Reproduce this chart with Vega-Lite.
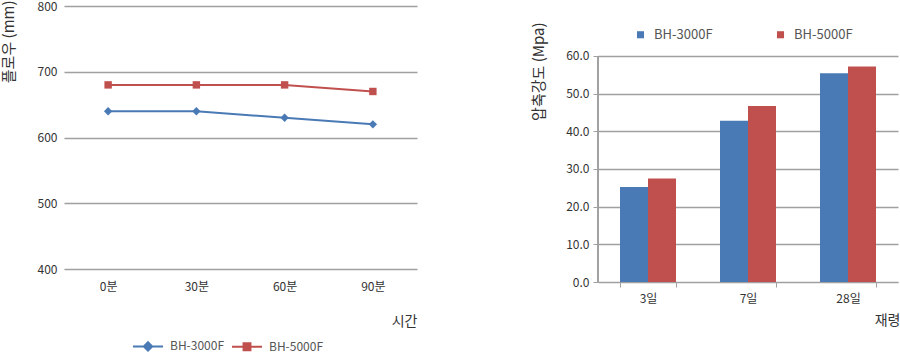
{
  "$schema": "https://vega.github.io/schema/vega-lite/v6.json",
  "padding": 0,
  "background": "white",
  "config": {
    "font": "Noto Sans CJK KR",
    "view": {"stroke": null},
    "axis": {"labelFont": "Noto Sans CJK KR", "titleFont": "Noto Sans CJK KR", "labelColor": "#333333", "titleColor": "#333333", "labelFontSize": 12, "titleFontSize": 13, "titleFontWeight": "normal", "gridColor": "#a0a0a0", "gridWidth": 1.5, "domainColor": "#a0a0a0", "tickColor": "#a0a0a0"},
    "legend": {"labelFont": "Noto Sans CJK KR", "labelFontSize": 12, "labelColor": "#555555"}
  },
  "datasets": {
    "flow": [
      {"time": "0분", "series": "BH-3000F", "value": 640},
      {"time": "30분", "series": "BH-3000F", "value": 640},
      {"time": "60분", "series": "BH-3000F", "value": 630},
      {"time": "90분", "series": "BH-3000F", "value": 620},
      {"time": "0분", "series": "BH-5000F", "value": 680},
      {"time": "30분", "series": "BH-5000F", "value": 680},
      {"time": "60분", "series": "BH-5000F", "value": 680},
      {"time": "90분", "series": "BH-5000F", "value": 670}
    ],
    "strength": [
      {"age": "3일", "series": "BH-3000F", "value": 25.2},
      {"age": "3일", "series": "BH-5000F", "value": 27.5},
      {"age": "7일", "series": "BH-3000F", "value": 42.8},
      {"age": "7일", "series": "BH-5000F", "value": 46.7},
      {"age": "28일", "series": "BH-3000F", "value": 55.4},
      {"age": "28일", "series": "BH-5000F", "value": 57.2}
    ]
  },
  "spacing": 113,
  "hconcat": [
    {
      "width": 353,
      "height": 263,
      "data": {"name": "flow"},
      "encoding": {
        "x": {"field": "time", "type": "ordinal", "sort": ["0분", "30분", "60분", "90분"], "scale": {"padding": 0.5},
          "axis": {"title": "시간", "labelAngle": 0, "domain": false, "ticks": false, "labelPadding": 12, "titleFontSize": 14, "titleAnchor": "end", "titleAlign": "right", "titleX": 353, "titleY": 52, "titleBaseline": "middle"}},
        "y": {"field": "value", "type": "quantitative", "scale": {"domain": [400, 800], "nice": false, "zero": false},
          "axis": {"title": "플로우 (mm)", "titleFontSize": 15, "values": [400, 500, 600, 700, 800], "domain": false, "ticks": false, "labelPadding": 7, "titleAngle": -90, "titleAlign": "right", "titleY": -6, "titleX": -56, "titleBaseline": "middle"}},
        "color": {"field": "series", "type": "nominal", "scale": {"domain": ["BH-3000F", "BH-5000F"], "range": ["#4a7ab5", "#c0504d"]},
          "legend": {"title": null, "orient": "none", "direction": "horizontal", "legendX": 68, "legendY": 324, "columnPadding": 3, "symbolSize": 900, "symbolStrokeWidth": 2, "labelOffset": 6,
            "encode": {"symbols": {"update": {"shape": {"signal": "datum.value == 'BH-3000F' ? 'M-1,0H1M0,-0.28L0.28,0L0,0.28L-0.28,0Z' : 'M-1,0H1M-0.23,-0.23H0.23V0.23H-0.23Z'"}}}}}}
      },
      "layer": [
        {"mark": {"type": "line", "strokeWidth": 2}},
        {"transform": [{"filter": "datum.series == 'BH-3000F'"}], "mark": {"type": "point", "shape": "diamond", "filled": true, "size": 70, "opacity": 1}},
        {"transform": [{"filter": "datum.series == 'BH-5000F'"}], "mark": {"type": "point", "shape": "square", "filled": true, "size": 55, "opacity": 1}}
      ]
    },
    {
      "width": 300,
      "height": 276,
      "data": {"name": "strength"},
      "layer": [
        {
          "mark": {"type": "bar"},
          "encoding": {
            "x": {"field": "age", "type": "nominal", "sort": ["3일", "7일", "28일"], "scale": {"paddingInner": 0.44, "paddingOuter": 0.22},
              "axis": {"title": "재령", "labelAngle": 0, "tickBand": "extent", "tickSize": 5, "labelPadding": 6, "titleFontSize": 14, "titleAnchor": "end", "titleAlign": "right", "titleX": 302, "titleY": 38, "titleBaseline": "middle"}},
            "xOffset": {"field": "series", "type": "nominal", "scale": {"paddingInner": 0, "paddingOuter": 0}},
            "y": {"field": "value", "type": "quantitative", "scale": {"domain": [0, 73.27], "nice": false},
              "axis": {"title": "압축강도 (Mpa)", "titleFontSize": 15, "values": [0, 10, 20, 30, 40, 50, 60], "format": ".1f", "domain": false, "tickSize": 5, "labelPadding": 4, "titleAngle": -90, "titleAlign": "right", "titleY": 16, "titleX": -60, "titleBaseline": "middle"}},
            "color": {"field": "series", "type": "nominal", "scale": {"domain": ["BH-3000F", "BH-5000F"], "range": ["#4a7ab5", "#c0504d"]},
              "legend": {"title": null, "orient": "none", "direction": "horizontal", "legendX": 36, "legendY": 22, "columnPadding": 61, "symbolType": "square", "symbolSize": 50, "labelOffset": 7, "labelFontSize": 13}}
          }
        },
        {
          "mark": {"type": "rule", "color": "#a0a0a0", "strokeWidth": 1},
          "encoding": {
            "x": {"value": 0},
            "y": {"datum": 0, "type": "quantitative"},
            "y2": {"datum": 60}
          }
        }
      ]
    }
  ],
  "resolve": {"scale": {"color": "independent"}, "legend": {"color": "independent"}}
}
